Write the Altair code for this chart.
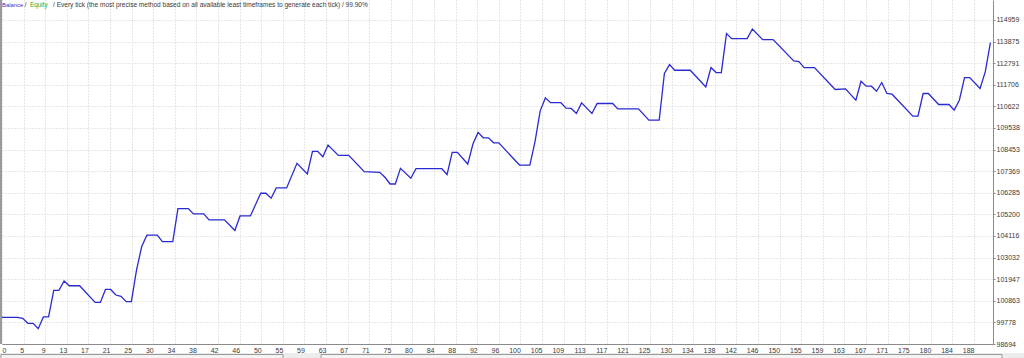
import altair as alt
import pandas as pd

# ---- data ----
trade = [0, 3, 4, 5, 6, 7, 8, 9, 10, 11, 12, 13, 15, 18, 19, 20, 21, 22, 23, 24,
         25, 26, 27, 28, 30, 31, 33, 34, 36, 37, 39, 40, 43, 45, 46, 48, 50, 51, 52, 53,
         55, 57, 59, 60, 61, 62, 63, 65, 67, 70, 73, 74, 75, 76, 77, 79, 80, 85, 86, 87,
         88, 90, 91, 92, 93, 94, 95, 96, 100, 102, 103, 104, 105, 106, 108, 109, 110, 111, 112, 114,
         115, 118, 119, 123, 125, 127, 128, 129, 130, 133, 136, 137, 138, 139, 140, 141, 144, 145, 147, 149,
         153, 154, 155, 157, 161, 163, 165, 166, 167, 168, 169, 170, 171, 172, 176, 177, 178, 179, 181, 183,
         184, 185, 186, 187, 189, 190, 191]
balance = [100031, 100031, 99981, 99731, 99731, 99465, 100051, 100051, 101383, 101383,
           101854, 101619, 101619, 100782, 100782, 101433, 101433, 101153, 101083, 100817,
           100817, 102420, 103587, 104158, 104158, 103837, 103837, 105490, 105490, 105224,
           105224, 104924, 104924, 104388, 105124, 105124, 106261, 106261, 106011, 106527,
           106527, 107763, 107228, 108364, 108364, 108094, 108680, 108164, 108164, 107343,
           107313, 107062, 106727, 106727, 107513, 107012, 107493, 107493, 107193, 108314,
           108314, 107728, 108730, 109316, 109046, 109046, 108795, 108795, 107678, 107678,
           108855, 110398, 111049, 110808, 110808, 110533, 110520, 110267, 110798, 110267,
           110768, 110768, 110498, 110498, 109932, 109932, 112271, 112721, 112436, 112436,
           111600, 112571, 112321, 112321, 114274, 114024, 114024, 114504, 113973, 113973,
           112902, 112872, 112571, 112571, 111470, 111499, 110934, 111885, 111635, 111635,
           111384, 111820, 111269, 111234, 110132, 110132, 111269, 111269, 110718, 110718,
           110433, 110934, 112070, 112070, 111519, 112351, 113823]

x_tick_labels = [0, 5, 9, 13, 17, 21, 25, 30, 34, 38, 42, 46, 50, 55, 59, 63, 67, 71, 75,
                 80, 84, 88, 92, 96, 100, 105, 109, 113, 117, 121, 125, 130, 134, 138, 142,
                 146, 150, 155, 159, 163, 167, 171, 175, 180, 184, 188]
y_tick_labels = [98694, 99778, 100863, 101947, 103032, 104116, 105200, 106285, 107369,
                 108453, 109538, 110622, 111706, 112791, 113875, 114959]

title_parts = ["Balance", "/", "Equity",
               "/ Every tick (the most precise method based on all available least timeframes to generate each tick) / 99.90%"]

# ---- layout ----
W, H = 991, 344
X_MAX = 191.5
Y_MIN, Y_MAX = 98694, 115963
GRID_PX = 21.6
x_step = GRID_PX * X_MAX / W
x_tick_pos = [i * x_step for i in range(len(x_tick_labels))]
label_arr = "[" + ",".join(str(v) for v in x_tick_labels) + "]"

FONT = "Liberation Sans"
GRID = "#cfcfcf"
AXC = "#8a8a8a"
TXT = "#3a3a3a"

df = pd.DataFrame({"trade": trade, "balance": balance})

line = alt.Chart(df).mark_line(color="#2a2ad2", strokeWidth=1.3).encode(
    x=alt.X("trade:Q",
            scale=alt.Scale(domain=[0, X_MAX], nice=False, zero=False),
            axis=alt.Axis(values=x_tick_pos, title=None, grid=True, gridColor=GRID,
                          gridDash=[1, 2], gridWidth=1,
                          labelExpr=label_arr + "[round(datum.value / " + repr(x_step) + ")]",
                          labelAlign={"condition": {"test": "datum.value < 0.01", "value": "left"},
                                      "value": "right"},
                          labelBaseline="top", labelPadding=2, labelFontSize=7, labelFont=FONT,
                          labelColor=TXT, labelOverlap=False, labelFlush=False,
                          tickSize=0, domainColor=AXC, domainWidth=1)),
    y=alt.Y("balance:Q",
            scale=alt.Scale(domain=[Y_MIN, Y_MAX], nice=False, zero=False),
            axis=alt.Axis(orient="right", values=y_tick_labels, format="d", title=None,
                          grid=True, gridColor=GRID, gridDash=[1, 2], gridWidth=1,
                          labelFontSize=7, labelFont=FONT, labelColor=TXT, labelPadding=1,
                          labelOverlap=False, labelFlush=False, labelBaseline="middle",
                          tickSize=2, tickColor=AXC, domainColor=AXC, domainWidth=1)),
)

left_border = alt.Chart(pd.DataFrame({"a": [0]})).mark_rule(color="#9a9a9a", strokeWidth=2).encode(
    x=alt.value(-1), y=alt.value(0), y2=alt.value(H))

# bottom UI strip of the terminal window (below the tick labels)
strip = alt.Chart(pd.DataFrame({"a": [0]})).mark_rect(color="#ececec").encode(
    x=alt.value(-2), x2=alt.value(1022), y=alt.value(H + 9), y2=alt.value(H + 14))
box1 = alt.Chart(pd.DataFrame({"a": [0]})).mark_rect(fill="#f4f4f4", stroke="#9a9a9a", strokeWidth=1).encode(
    x=alt.value(-1), x2=alt.value(281), y=alt.value(H + 10.5), y2=alt.value(H + 16))
box2 = alt.Chart(pd.DataFrame({"a": [0]})).mark_rect(fill="#f4f4f4", stroke="#9a9a9a", strokeWidth=1).encode(
    x=alt.value(319), x2=alt.value(1000), y=alt.value(H + 10.5), y2=alt.value(H + 16))

t_bal = alt.Chart(pd.DataFrame({"t": [title_parts[0]]})).mark_text(
    align="left", baseline="middle", fontSize=5.9, font=FONT, color="#3434c8").encode(
    x=alt.value(0), y=alt.value(5), text="t:N")
t_s1 = alt.Chart(pd.DataFrame({"t": [title_parts[1]]})).mark_text(
    align="left", baseline="middle", fontSize=6.4, font=FONT, color=TXT).encode(
    x=alt.value(22.7), y=alt.value(5), text="t:N")
t_eq = alt.Chart(pd.DataFrame({"t": [title_parts[2]]})).mark_text(
    align="left", baseline="middle", fontSize=6.4, font=FONT, color="#2aa82a").encode(
    x=alt.value(28), y=alt.value(5), text="t:N")
t_rest = alt.Chart(pd.DataFrame({"t": [title_parts[3]]})).mark_text(
    align="left", baseline="middle", fontSize=6.55, font=FONT, color=TXT).encode(
    x=alt.value(51), y=alt.value(5), text="t:N")

chart = alt.layer(strip, box1, box2, line, left_border, t_bal, t_s1, t_eq, t_rest).properties(
    width=W, height=H,
    padding={"left": 2, "top": 0, "right": 31, "bottom": 14},
    autosize=alt.AutoSizeParams(type="none"),
    background="white",
).configure_view(stroke=None)

chart.save("out.html", embed_options={"renderer": "svg", "actions": False})
